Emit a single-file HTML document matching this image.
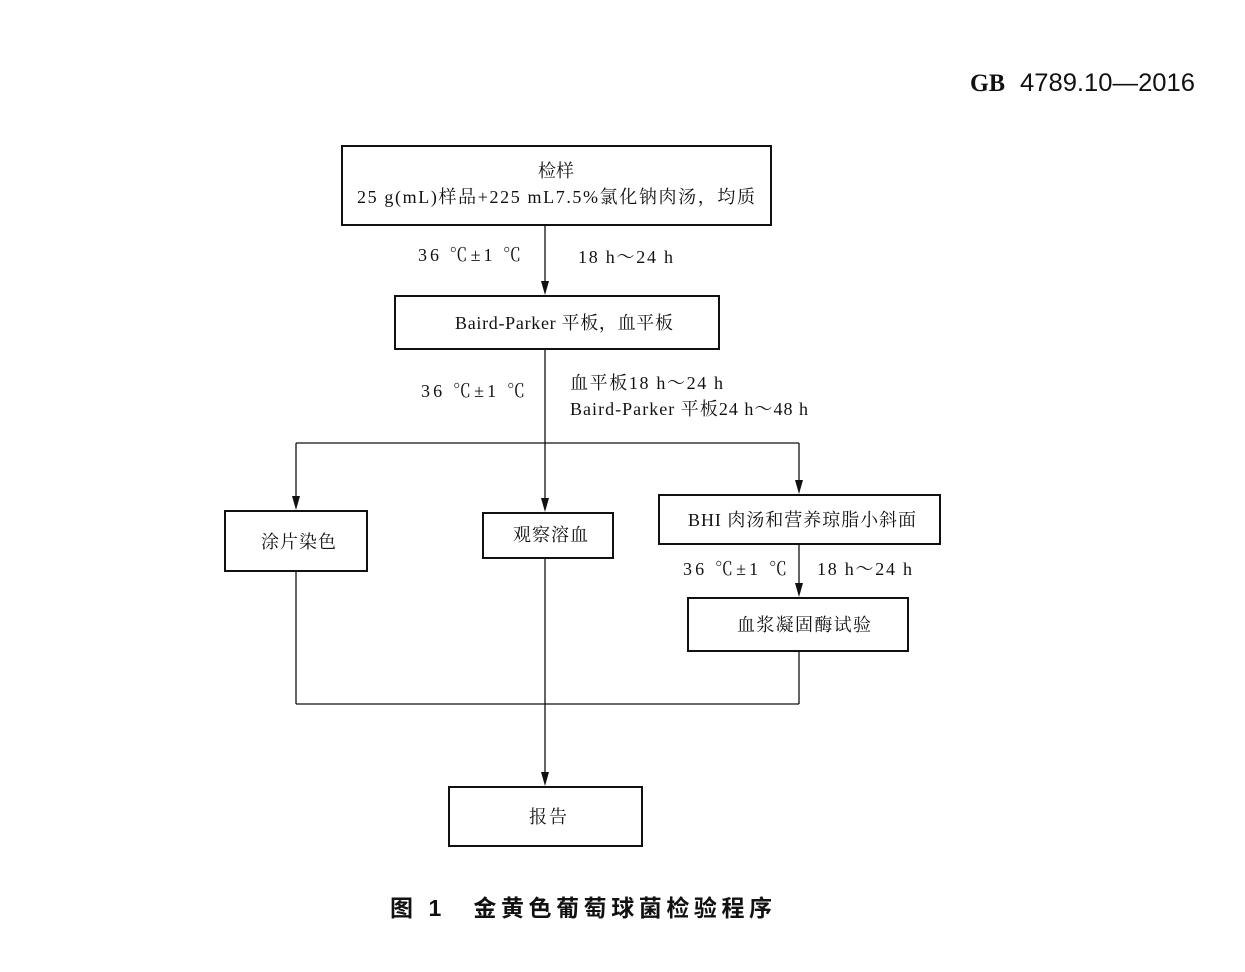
<!DOCTYPE html>
<html><head><meta charset="utf-8">
<style>
html,body{margin:0;padding:0;background:#fff;}
svg{display:block;}
text{font-family:"Liberation Serif","Noto Serif CJK SC",serif;fill:#111;}
.s{font-family:"Liberation Sans","Noto Sans CJK SC",sans-serif;}
</style></head><body>
<svg width="1245" height="972" viewBox="0 0 1245 972" xmlns="http://www.w3.org/2000/svg">
<text x="970" y="91" font-size="25" font-weight="bold" textLength="35" lengthAdjust="spacingAndGlyphs">GB</text>
<text x="1020" y="91" font-size="25" class="s" textLength="175" lengthAdjust="spacingAndGlyphs">4789.10—2016</text>
<g fill="none" stroke="#111" stroke-width="2">
<rect x="342" y="146" width="429" height="79"/>
<rect x="395" y="296" width="324" height="53"/>
<rect x="225" y="511" width="142" height="60"/>
<rect x="483" y="513" width="130" height="45"/>
<rect x="659" y="495" width="281" height="49"/>
<rect x="688" y="598" width="220" height="53"/>
<rect x="449" y="787" width="193" height="59"/>
</g>
<g stroke="#111" stroke-width="1.3" fill="none">
<line x1="545" y1="225" x2="545" y2="282"/>
<line x1="545" y1="349" x2="545" y2="499"/>
<line x1="296" y1="443" x2="799" y2="443"/>
<line x1="296" y1="443" x2="296" y2="497"/>
<line x1="799" y1="443" x2="799" y2="481"/>
<line x1="799" y1="544" x2="799" y2="584"/>
<line x1="296" y1="571" x2="296" y2="704"/>
<line x1="799" y1="651" x2="799" y2="704"/>
<line x1="296" y1="704" x2="799" y2="704"/>
<line x1="545" y1="558" x2="545" y2="773"/>
</g>
<g fill="#111">
<path d="M541,281 L549,281 L545,295 Z"/>
<path d="M541,498 L549,498 L545,512 Z"/>
<path d="M292,496 L300,496 L296,510 Z"/>
<path d="M795,480 L803,480 L799,494 Z"/>
<path d="M795,583 L803,583 L799,597 Z"/>
<path d="M541,772 L549,772 L545,786 Z"/>
</g>
<g font-size="18">
<text x="556" y="177" text-anchor="middle">检样</text>
<text x="357" y="203" textLength="398">25 g(mL)样品+225 mL7.5%氯化钠肉汤，均质</text>
<text x="418" y="261" textLength="103">36 ℃±1 ℃</text>
<text x="578" y="263" textLength="95">18 h～24 h</text>
<text x="455" y="329" textLength="218">Baird-Parker 平板，血平板</text>
<text x="421" y="397" textLength="104">36 ℃±1 ℃</text>
<text x="570" y="389" textLength="153">血平板18 h～24 h</text>
<text x="570" y="415" textLength="238">Baird-Parker 平板24 h～48 h</text>
<text x="261" y="548" textLength="75">涂片染色</text>
<text x="513" y="541" textLength="75">观察溶血</text>
<text x="688" y="526" textLength="228">BHI 肉汤和营养琼脂小斜面</text>
<text x="683" y="575" textLength="104">36 ℃±1 ℃</text>
<text x="817" y="575" textLength="95">18 h～24 h</text>
<text x="737" y="631" textLength="134">血浆凝固酶试验</text>
<text x="529" y="823" textLength="38">报告</text>
</g>
<text x="390" y="916" font-size="23" class="s" font-weight="bold" textLength="382">图 1　金黄色葡萄球菌检验程序</text>
</svg>
</body></html>
